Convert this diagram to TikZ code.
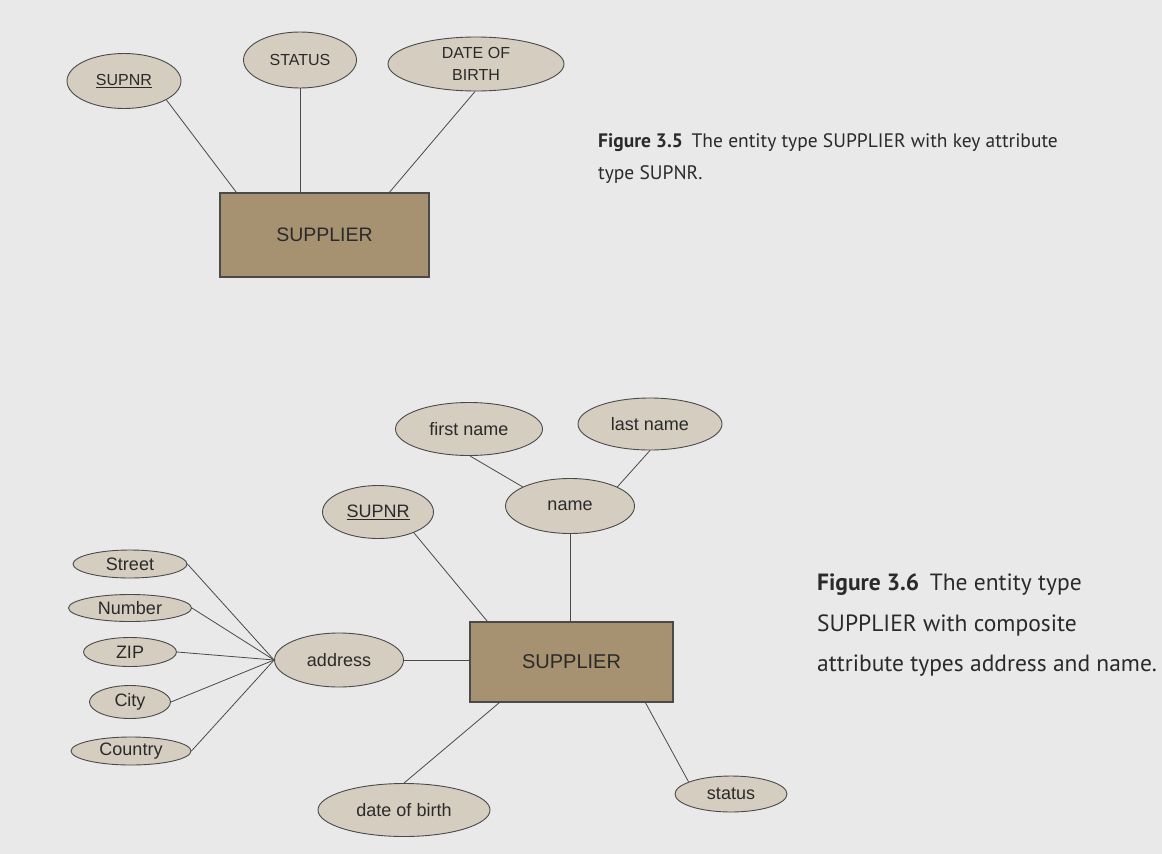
\documentclass[tikz,border=0pt]{standalone}
\usepackage{fontspec}
\setmainfont{Liberation Sans}
\newfontfamily\capfont{PT Sans}
\usetikzlibrary{calc,shapes.geometric}
\definecolor{bg}{HTML}{E9E9E9}
\definecolor{efill}{HTML}{D5CDBF}
\definecolor{rfill}{HTML}{A69271}
\definecolor{edge}{HTML}{4A4A4A}
\definecolor{ink}{HTML}{2A2A2A}
\begin{document}
\begin{tikzpicture}[x=1pt,y=-1pt,
  attr/.style={ellipse, draw=edge, fill=efill, line width=0.9pt, inner sep=0pt, text=ink},
  ent/.style={rectangle, draw=edge, fill=rfill, line width=1.2pt, inner sep=0pt, text=ink},
  link/.style={draw=edge, line width=0.8pt},
  capA/.style={anchor=base west, inner sep=0pt, text=ink, font=\capfont\fontsize{19.5}{24}\selectfont},
  capB/.style={anchor=base west, inner sep=0pt, text=ink, font=\capfont\fontsize{23.5}{27}\selectfont},
  smallA/.style={font=\fontsize{16}{19}\selectfont},
  smallB/.style={font=\fontsize{18}{21}\selectfont}]
\fill[bg] (0,0) rectangle (1162,854);
\useasboundingbox (0,0) rectangle (1162,854);

% ---------- Figure 3.5 ----------
\node[ent, minimum width=209pt, minimum height=84pt, font=\fontsize{19.5}{22}\selectfont] (sup1) at (324.5,235) {SUPPLIER};
\node[attr, smallA, minimum width=114pt, minimum height=55pt] (s1) at (124,81) {\underline{SUPNR}};
\node[attr, smallA, minimum width=113pt, minimum height=56pt] (st) at (300,60) {STATUS};
\node[attr, smallA, minimum width=176pt, minimum height=54pt, align=center] (dob1) at (476,64) {DATE OF\\[3pt]BIRTH};
\draw[link] (s1.-24) -- ($(sup1.north west)+(17,0)$);
\draw[link] (st.south) -- (st.south |- sup1.north);
\draw[link] (dob1.-92) -- ($(sup1.north west)+(170,0)$);

\node[capA] (c5a) at (598,147) {\textbf{Figure 3.5}\hspace{0.45em}The entity type SUPPLIER with key attribute};
\node[capA] (c5b) at (598,179) {type SUPNR.};

% ---------- Figure 3.6 ----------
\node[ent, minimum width=203pt, minimum height=80pt, font=\fontsize{20}{23}\selectfont] (sup2) at (571.5,662) {SUPPLIER};
\node[attr, smallB, minimum width=129pt, minimum height=55pt] (name) at (570,506) {name};
\node[attr, smallB, minimum width=147pt, minimum height=53pt] (fn) at (469,429) {first name};
\node[attr, smallB, minimum width=144pt, minimum height=52pt] (ln) at (650,424) {last name};
\node[attr, smallB, minimum width=111pt, minimum height=53pt] (s2) at (378,512) {\underline{SUPNR}};
\node[attr, smallB, minimum width=129pt, minimum height=54pt] (addr) at (339,660) {address};
\node[attr, smallB, minimum width=114pt, minimum height=28pt] (street) at (130,564) {Street};
\node[attr, smallB, minimum width=123pt, minimum height=27pt] (number) at (130,608) {Number};
\node[attr, smallB, minimum width=93pt, minimum height=29pt] (zip) at (130,652) {ZIP};
\node[attr, smallB, minimum width=81pt, minimum height=33pt] (city) at (130,702) {City};
\node[attr, smallB, minimum width=120pt, minimum height=28pt] (country) at (131,751) {Country};
\node[attr, smallB, minimum width=172pt, minimum height=53pt] (dob2) at (404,810) {date of birth};
\node[attr, smallB, minimum width=112pt, minimum height=36pt] (status) at (731,794) {status};

\draw[link] (fn.-88) -- (name.158);
\draw[link] (ln.south) -- (name.22);
\draw[link] (name.south) -- (name.south |- sup2.north);
\draw[link] (s2.-30) -- ($(sup2.north west)+(18,0)$);
\draw[link] (addr.east) -- (addr.east -| sup2.west);
\foreach \n in {street,number,zip,city,country}
  \draw[link] (\n.east) -- (addr.west);
\draw[link] ($(sup2.south west)+(30,0)$) -- (dob2.north);
\draw[link] ($(sup2.south west)+(176,0)$) -- (status.164);

\node[capB] (c6a) at (817,590) {\textbf{Figure 3.6}\hspace{0.45em}The entity type};
\node[capB] (c6b) at (817,631) {SUPPLIER with composite};
\node[capB] (c6c) at (817,671) {attribute types address and name.};
\end{tikzpicture}
\end{document}
